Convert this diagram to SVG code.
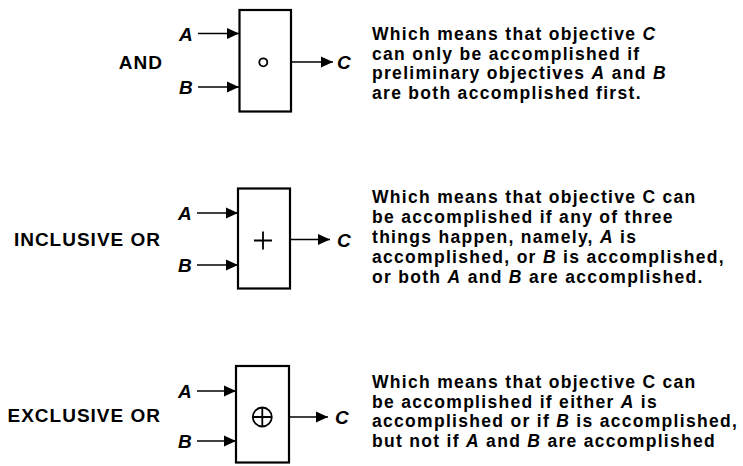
<svg xmlns="http://www.w3.org/2000/svg" width="743" height="466" viewBox="0 0 743 466">
<defs>
<style>
.t{font-family:"Liberation Sans",Arial,sans-serif;font-weight:bold;font-size:17.5px;letter-spacing:1.3px;fill:#000}
.lab{font-family:"Liberation Sans",Arial,sans-serif;font-weight:bold;font-size:19px;letter-spacing:1px;fill:#000;text-anchor:end}
.v{font-family:"Liberation Sans",Arial,sans-serif;font-weight:bold;font-style:italic;font-size:19px;fill:#000}
.i{font-style:italic}
.box{fill:#fff;stroke:#000;stroke-width:2.2}
.sym{fill:none;stroke:#000;stroke-width:1.8}
.ln{stroke:#000;stroke-width:1.6;fill:none}
</style>
<marker id="ah" markerUnits="userSpaceOnUse" markerWidth="13" markerHeight="12" refX="12" refY="6" orient="auto">
<path d="M0,0.5 L12,6 L0,11.5 Z" fill="#000"/>
</marker>
</defs>
<rect width="743" height="466" fill="#fff"/>

<g id="connectors">
<line class="ln" x1="198" y1="33.5" x2="239" y2="33.5" marker-end="url(#ah)"/>
<line class="ln" x1="198" y1="87" x2="239" y2="87" marker-end="url(#ah)"/>
<line class="ln" x1="291" y1="62" x2="333" y2="62" marker-end="url(#ah)"/>
<line class="ln" x1="197" y1="213" x2="238" y2="213" marker-end="url(#ah)"/>
<line class="ln" x1="197" y1="265" x2="238" y2="265" marker-end="url(#ah)"/>
<line class="ln" x1="290" y1="239.5" x2="330" y2="239.5" marker-end="url(#ah)"/>
<line class="ln" x1="197" y1="391" x2="236" y2="391" marker-end="url(#ah)"/>
<line class="ln" x1="197" y1="441" x2="236" y2="441" marker-end="url(#ah)"/>
<line class="ln" x1="289" y1="417" x2="328" y2="417" marker-end="url(#ah)"/>
</g>

<g id="and">
<text class="lab" x="163" y="69">AND</text>
<rect class="box" x="239.5" y="10" width="51.5" height="101.5"/>
<circle class="sym" cx="263.3" cy="62.3" r="4"/>
<text class="v" x="179" y="41">A</text>
<text class="v" x="179" y="94">B</text>
<text class="v" x="337" y="69">C</text>
<text class="t">
<tspan x="372" y="40">Which means that objective <tspan class="i">C</tspan></tspan>
<tspan x="372" y="59.5">can only be accomplished if</tspan>
<tspan x="372" y="79">preliminary objectives <tspan class="i">A</tspan> and <tspan class="i">B</tspan></tspan>
<tspan x="372" y="98.5">are both accomplished first.</tspan>
</text>
</g>

<g id="inclusive-or">
<text class="lab" x="161" y="245.5">INCLUSIVE OR</text>
<rect class="box" x="238" y="188.5" width="52" height="100"/>
<path class="sym" d="M254,240.5 H272 M263,231.5 V249.5"/>
<text class="v" x="178" y="220">A</text>
<text class="v" x="178" y="272">B</text>
<text class="v" x="337" y="246.5">C</text>
<text class="t">
<tspan x="372" y="203">Which means that objective C can</tspan>
<tspan x="372" y="223">be accomplished if any of three</tspan>
<tspan x="372" y="243">things happen, namely, <tspan class="i">A</tspan> is</tspan>
<tspan x="372" y="263">accomplished, or <tspan class="i">B</tspan> is accomplished,</tspan>
<tspan x="372" y="283">or both <tspan class="i">A</tspan> and <tspan class="i">B</tspan> are accomplished.</tspan>
</text>
</g>

<g id="exclusive-or">
<text class="lab" x="161" y="422">EXCLUSIVE OR</text>
<rect class="box" x="236" y="366" width="53" height="96.5"/>
<circle class="sym" cx="262.3" cy="417" r="9.5"/>
<path class="sym" d="M252.8,417 H271.8 M262.3,407.5 V426.5"/>
<text class="v" x="178" y="398">A</text>
<text class="v" x="178" y="448">B</text>
<text class="v" x="335" y="424">C</text>
<text class="t">
<tspan x="372" y="388">Which means that objective C can</tspan>
<tspan x="372" y="407.5">be accomplished if either <tspan class="i">A</tspan> is</tspan>
<tspan x="372" y="427">accomplished or if <tspan class="i">B</tspan> is accomplished,</tspan>
<tspan x="372" y="446.5">but not if <tspan class="i">A</tspan> and <tspan class="i">B</tspan> are accomplished</tspan>
</text>
</g>
</svg>
